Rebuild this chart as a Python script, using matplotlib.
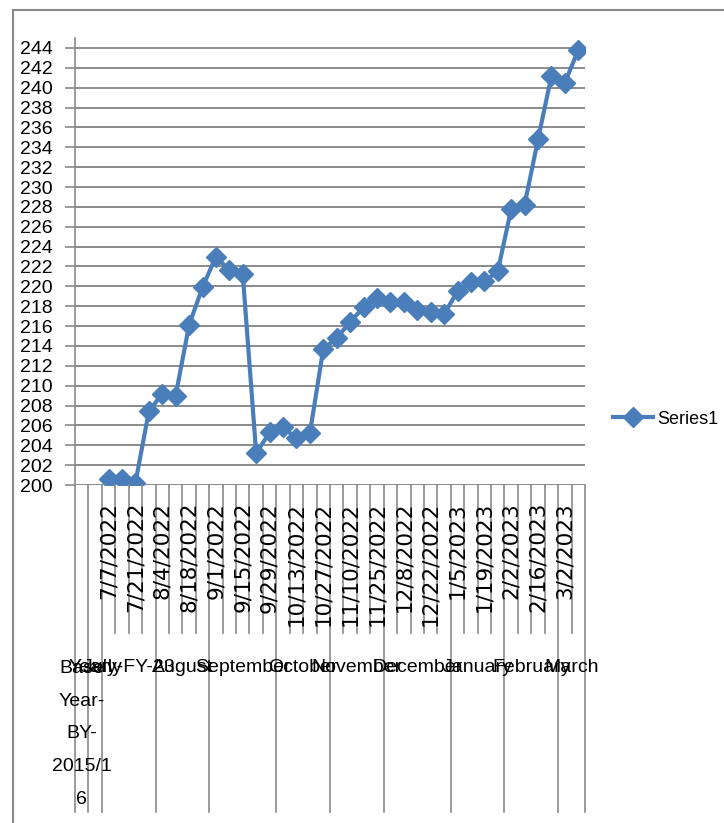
import numpy as np
import matplotlib.pyplot as plt
from matplotlib.lines import Line2D
from matplotlib.transforms import blended_transform_factory

plt.rcParams["font.family"] = ["Liberation Sans", "DejaVu Sans"]

# two-level category axis: month groups over weekly dates
months = ["Base\nYear-\nBY-\n2015/1\n6", "Yearly", "July-FY-23", "August", "September",
          "October", "November", "December", "January", "February", "March"]
month_sizes = [1, 1, 4, 4, 5, 4, 4, 5, 4, 4, 2]
dates = ["", "",
         "7/7/2022", "7/14/2022", "7/21/2022", "7/28/2022",
         "8/4/2022", "8/11/2022", "8/18/2022", "8/25/2022",
         "9/1/2022", "9/8/2022", "9/15/2022", "9/22/2022", "9/29/2022",
         "10/6/2022", "10/13/2022", "10/20/2022", "10/27/2022",
         "11/3/2022", "11/10/2022", "11/17/2022", "11/25/2022",
         "12/1/2022", "12/8/2022", "12/15/2022", "12/22/2022", "12/29/2022",
         "1/5/2023", "1/12/2023", "1/19/2023", "1/26/2023",
         "2/2/2023", "2/9/2023", "2/16/2023", "2/23/2023",
         "3/2/2023", "3/9/2023"]
values = [np.nan, np.nan,
          200.6, 200.6, 200.2, 207.4,
          209.2, 209.0, 216.1, 219.9,
          223.0, 221.6, 221.2, 203.2, 205.3,
          205.8, 204.7, 205.2, 213.7,
          214.8, 216.4, 217.9, 218.8,
          218.4, 218.4, 217.6, 217.4, 217.2,
          219.5, 220.4, 220.5, 221.5,
          227.8, 228.2, 234.8, 241.2,
          240.5, 243.8]

W, H = 724, 823
BLUE = "#4a7ebb"
GREY = "#8a8a8a"


def fx(px):
    return px / W


def fy(py):
    return 1 - py / H


fig = plt.figure(figsize=(W / 100, H / 100), dpi=100)
ax = fig.add_axes([fx(75), fy(485), fx(585) - fx(75), fy(38) - fy(485)])

x = np.arange(len(dates))
ax.plot(x, values, color=BLUE, lw=3.0, marker="D", ms=10.5, label="Series1")

ax.set_xlim(-0.5, len(dates) - 0.5)
ax.set_ylim(200, 245)
ax.set_yticks(np.arange(200, 245, 2))
ax.grid(axis="y", color=GREY, lw=1.4)
ax.set_axisbelow(True)
ax.set_xticks([])
ax.tick_params(axis="y", length=7, width=1.2, color=GREY, pad=9, labelsize=14)
for s in ("top", "right", "bottom"):
    ax.spines[s].set_visible(False)
ax.spines["left"].set_color(GREY)
ax.spines["left"].set_linewidth(1.2)

# multi-level category axis drawn below the plot
tr = blended_transform_factory(ax.transData, fig.transFigure)
bounds = np.cumsum([0] + month_sizes)
for i in range(len(dates) + 1):
    bottom = 812 if i in bounds else 633
    ax.plot([i - 0.5, i - 0.5], [fy(485), fy(bottom)], transform=tr, color=GREY,
            lw=1.2, clip_on=False)
for i, d in enumerate(dates):
    if d and i % 2 == 0:
        ax.text(i, fy(502), d, transform=tr, rotation=90, ha="center", va="top",
                fontsize=15.5, family="DejaVu Sans")
for k, m in enumerate(months):
    xc = (bounds[k] + bounds[k + 1]) / 2 - 0.5
    if "\n" in m:
        ax.text(xc, fy(734), m, transform=tr, ha="center", va="center", fontsize=14,
                linespacing=2.2)
    else:
        ax.text(xc, fy(668), m, transform=tr, ha="center", va="center", fontsize=14)

ax.legend(loc="center left", bbox_to_anchor=(fx(613), fy(419)), bbox_transform=fig.transFigure,
          frameon=False, fontsize=13, handlelength=2.2, handletextpad=0.25,
          borderpad=0, borderaxespad=0)

# chart-area border (cropped at right/bottom)
fig.add_artist(Line2D([fx(13), 1], [fy(10), fy(10)], color=GREY, lw=1.5))
fig.add_artist(Line2D([fx(13), fx(13)], [fy(10), 0], color=GREY, lw=1.5))

fig.savefig("out.png", dpi=100)
